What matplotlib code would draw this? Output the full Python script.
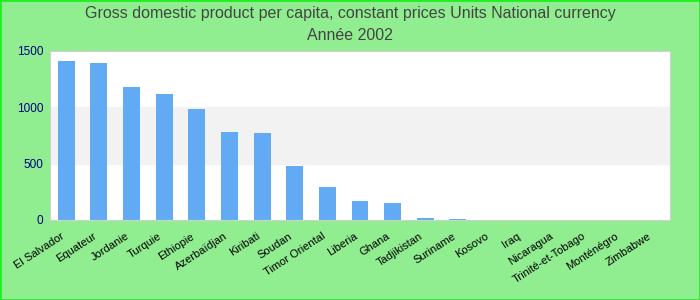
import matplotlib
matplotlib.use('Agg')
import matplotlib.pyplot as plt
import matplotlib.transforms as mtransforms
import numpy as np

plt.rcParams['font.family'] = ['Liberation Sans', 'DejaVu Sans']

countries = ['El Salvador', 'Equateur', 'Jordanie', 'Turquie', 'Ethiopie', 'Azerbaïdjan',
             'Kiribati', 'Soudan', 'Timor Oriental', 'Liberia', 'Ghana', 'Tadjikistan',
             'Suriname', 'Kosovo', 'Iraq', 'Nicaragua', 'Trinité-et-Tobago',
             'Monténégro', 'Zimbabwe']
values = [1411, 1393, 1182, 1118, 985, 781, 772, 479, 293, 169, 151, 18, 8,
          0, 0, 0, 0, 0, 0]
yticks = [0, 500, 1000, 1500]

fig = plt.figure(figsize=(7, 3), dpi=100, facecolor='#90ee90')
fig.patches.append(plt.Rectangle((0, 0), 1, 1, transform=fig.transFigure,
                                 fill=False, ec='#22ee22', lw=2))
ax = fig.add_axes([50/700, 80/300, 620/700, 169/300])
ax.set_facecolor('white')
ax.axhspan(500, 1000, color='#f2f2f2', zorder=0)

x = np.arange(len(countries))
ax.bar(x, values, width=0.52, color='#63aaf5', zorder=2)
ax.set_xlim(-0.5, len(countries) - 0.5)
ax.set_ylim(0, 1500)
ax.set_yticks(yticks)
ax.set_yticklabels([str(v) for v in yticks], color='#000080', fontsize=8.5)
ax.set_xticks(x)
ax.set_xticklabels(countries, rotation=33, ha='right', rotation_mode='anchor', fontsize=8)
ax.tick_params(length=0)
ax.tick_params(axis='x', pad=8)
ax.tick_params(axis='y', pad=5)
shift = mtransforms.ScaledTranslation(-6/100, 0, fig.dpi_scale_trans)
for lbl in ax.get_xticklabels():
    lbl.set_transform(lbl.get_transform() + shift)
for s in ax.spines.values():
    s.set_color('#d0d0d0')

fig.text(0.5, 0.955, 'Gross domestic product per capita, constant prices Units National currency',
         ha='center', va='center', fontsize=11.5, color='#444444')
fig.text(0.5, 0.88, 'Année 2002', ha='center', va='center', fontsize=11.5, color='#444444')

fig.savefig('out.png', dpi=100, facecolor=fig.get_facecolor())
